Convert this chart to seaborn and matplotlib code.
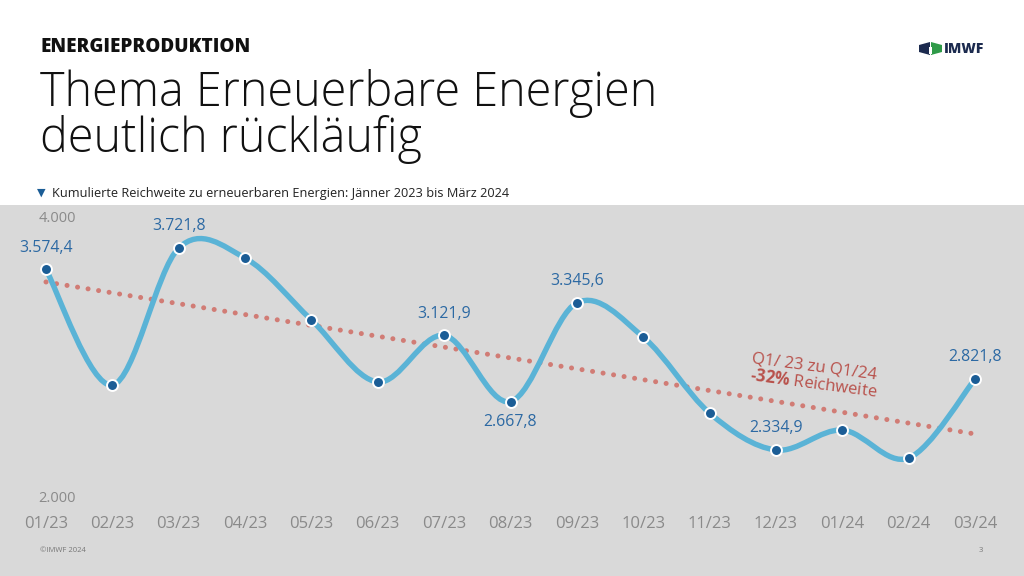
import numpy as np
import pandas as pd
import seaborn as sns
import matplotlib.pyplot as plt
from matplotlib.path import Path
from matplotlib.patches import PathPatch, Rectangle, Polygon

# Data
months = ['01/23', '02/23', '03/23', '04/23', '05/23', '06/23', '07/23', '08/23',
          '09/23', '10/23', '11/23', '12/23', '01/24', '02/24', '03/24']
reach = [3574.4, 2781, 3721.8, 3653, 3228, 2802, 3121.9, 2667.8,
         3345.6, 3111, 2589, 2334.9, 2472, 2280, 2821.8]
labelled_above = [0, 2, 6, 8, 11, 14]
labelled_below = [7]
ytick_vals = [2000, 4000]

df = pd.DataFrame({'idx': range(len(months)), 'month': months, 'reach': reach})

# Colours
BG = '#d9d9d9'
LINE = '#5ab3d6'
DOT = '#1b5d96'
LABEL = '#2c69a3'
TREND = '#d17c75'
NOTE = '#b8504a'
TICK = '#8a8a8a'

sns.set_theme(style='white')
plt.rcParams['font.family'] = ['Open Sans', 'DejaVu Sans']
plt.rcParams['mathtext.fontset'] = 'custom'
plt.rcParams['mathtext.bf'] = 'Open Sans:bold'
plt.rcParams['mathtext.rm'] = 'Open Sans'


def de(v):
    return f"{v:,.1f}".replace(',', 'X').replace('.', ',').replace('X', '.')


def fx(px):
    return px / 1024


def fy(py):
    return 1 - py / 576


fig = plt.figure(figsize=(10.24, 5.76), dpi=100)
fig.patch.set_facecolor('white')

# grey chart band
fig.patches.append(Rectangle((0, 0), 1, fy(205), transform=fig.transFigure,
                             facecolor=BG, edgecolor='none', zorder=-5))

# axes placed so that month 0 sits at x=46px and 14 at 975px
step = (975 - 46) / 14
upp = 6.866  # value units per pixel
ax = fig.add_axes([0, fy(508), 1, (508 - 205) / 576])
ax.set_zorder(2)
ax.set_facecolor('none')
ax.set_xlim(-46 / step, (1024 - 46) / step)
ax.set_ylim(2000 - (508 - 498.8) * upp, 2000 + (498.8 - 205) * upp)

# trend line (linear regression)
sns.regplot(data=df, x='idx', y='reach', ax=ax, scatter=False, ci=None,
            line_kws=dict(color=TREND, lw=3.6, linestyle=(0, (0.01, 2.12)),
                          dash_capstyle='round', zorder=2))

# smooth curve through points (Catmull-Rom as cubic Bezier)
xs = df['idx'].to_numpy(dtype=float)
ys = df['reach'].to_numpy(dtype=float)
pts = np.column_stack([xs, ys])
ext = np.vstack([pts[0], pts, pts[-1]])
verts = [tuple(pts[0])]
codes = [Path.MOVETO]
for i in range(1, len(ext) - 2):
    p0, p1, p2, p3 = ext[i - 1], ext[i], ext[i + 1], ext[i + 2]
    c1 = p1 + (p2 - p0) / 6
    c2 = p2 - (p3 - p1) / 6
    verts += [tuple(c1), tuple(c2), tuple(p2)]
    codes += [Path.CURVE4] * 3
ax.add_patch(PathPatch(Path(verts, codes), facecolor='none', edgecolor=LINE,
                       lw=3.9, capstyle='round', joinstyle='round', zorder=3))

sns.scatterplot(data=df, x='idx', y='reach', ax=ax, s=62, color=DOT,
                edgecolor='white', linewidth=1.4, zorder=4, clip_on=False)

for i in labelled_above:
    ax.annotate(de(reach[i]), (i, reach[i]), xytext=(0, 10), textcoords='offset points',
                ha='center', va='bottom', fontsize=11.4, color=LABEL)
for i in labelled_below:
    ax.annotate(de(reach[i]), (i, reach[i]), xytext=(0, -9), textcoords='offset points',
                ha='center', va='top', fontsize=11.4, color=LABEL)

# y axis labels
ax.annotate(f"{ytick_vals[1]:,}".replace(',', '.'), (11 / step, ytick_vals[1]), xytext=(0, -8),
            textcoords='offset points', ha='center', va='center', fontsize=10.5, color=TICK)
ax.annotate(f"{ytick_vals[0]:,}".replace(',', '.'), (11 / step, ytick_vals[0]), xytext=(0, 0),
            textcoords='offset points', ha='center', va='center', fontsize=10.5, color=TICK)

# trend annotation
ax.text((753 - 46) / step, 2000 + (498.8 - 351) * upp,
        "Q1/ 23 zu Q1/24\n$\\mathbf{\u2010 32\\%}$ Reichweite".replace('\u2010 ', '\u2010'),
        rotation=-7.5, rotation_mode='anchor', ha='left', va='top',
        multialignment='left', fontsize=12, color=NOTE, linespacing=1.0)

ax.set_xticks(range(len(months)))
ax.set_xticklabels(months)
ax.set_yticks([])
ax.tick_params(axis='x', length=0, pad=6, labelsize=12, labelcolor=TICK)
ax.set_xlabel('')
ax.set_ylabel('')
sns.despine(ax=ax, left=True, bottom=True)

# header texts
fig.text(fx(40), fy(47), 'ENERGIEPRODUKTION', fontsize=13.6, fontweight='heavy',
         color='#111111', va='center', ha='left')
fig.text(fx(40), fy(106), 'Thema Erneuerbare Energien', fontsize=33.7, fontweight='light',
         color='#111111', va='baseline', ha='left')
fig.text(fx(40), fy(152), 'deutlich rückläufig', fontsize=33.7, fontweight='light',
         color='#111111', va='baseline', ha='left')
fig.text(fx(37), fy(193), '▼', fontsize=8, color=DOT, va='center', ha='left',
         family=['DejaVu Sans'])
fig.text(fx(52), fy(193), 'Kumulierte Reichweite zu erneuerbaren Energien: Jänner 2023 bis März 2024',
         fontsize=9.2, color='#222222', va='center', ha='left')

# logo
fig.patches.append(Polygon([(fx(919), fy(45)), (fx(930), fy(42)), (fx(930), fy(55)), (fx(919), fy(52))],
                           closed=True, transform=fig.transFigure, facecolor='#1c2b4f', edgecolor='none'))
fig.patches.append(Polygon([(fx(931), fy(42)), (fx(942), fy(45)), (fx(942), fy(52)), (fx(931), fy(55))],
                           closed=True, transform=fig.transFigure, facecolor='#2f9a48', edgecolor='none'))
fig.patches.append(Rectangle((fx(928.5), fy(54)), 3 / 1024, 7 / 576, transform=fig.transFigure,
                             facecolor='white', edgecolor='none'))
fig.text(fx(944), fy(49), 'IMWF', fontsize=10, fontweight='heavy', color='#1c2b4f',
         va='center', ha='left')

# footer
fig.text(fx(40), fy(550), '©IMWF 2024', fontsize=5.5, color='#777777', va='center', ha='left')
fig.text(fx(979), fy(550), '3', fontsize=5.5, color='#777777', va='center', ha='left')

fig.savefig('out.png', dpi=100)
